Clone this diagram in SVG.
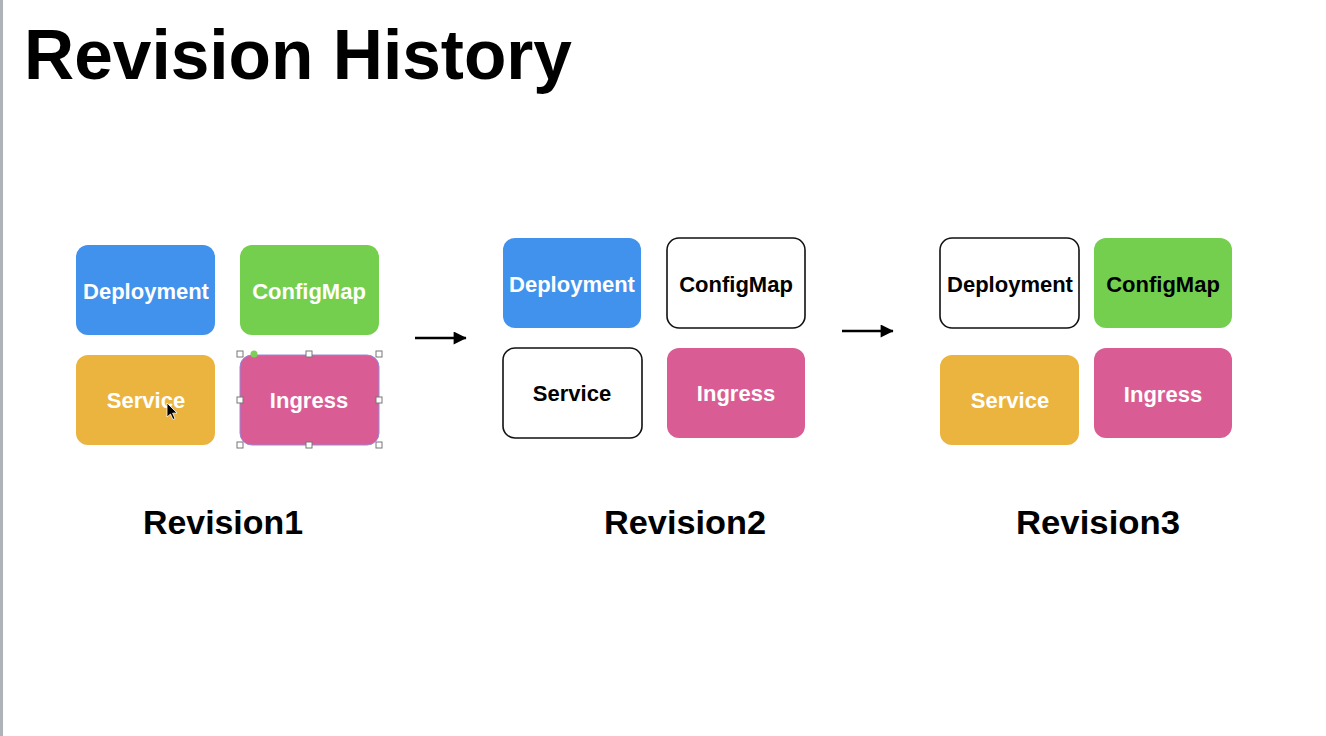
<svg xmlns="http://www.w3.org/2000/svg" width="1326" height="736" viewBox="0 0 1326 736">
  <style>
    .empty { fill: #ffffff; stroke: #111111; stroke-width: 1.6; }
    .lbl { font-family: "Liberation Sans", Arial, sans-serif; font-weight: bold; font-size: 22px; text-anchor: middle; }
    .w { fill: #ffffff; }
    .k { fill: #000000; }
    .rev { font-family: "Liberation Sans", Arial, sans-serif; font-weight: bold; font-size: 33px; text-anchor: middle; fill: #000; }
    .handle { fill: #ffffff; stroke: #777777; stroke-width: 1; }
    .conn { stroke: #000; stroke-width: 2.6; fill: none; marker-end: url(#ah); }
  </style>
  <defs>
    <marker id="ah" viewBox="0 0 10 10" refX="9.5" refY="5" markerWidth="5.6" markerHeight="5" orient="auto" markerUnits="strokeWidth">
      <path d="M0,0 L10,5 L0,10 Z" fill="#000"/>
    </marker>
  </defs>
  <rect x="0" y="0" width="1326" height="736" fill="#ffffff"/>
  <rect x="0" y="0" width="3" height="736" fill="#aeb3ba"/>
  <text x="24" y="79" font-family="Liberation Sans, Arial, sans-serif" font-weight="bold" font-size="70" textLength="548" lengthAdjust="spacingAndGlyphs" fill="#000">Revision History</text>

  <!-- Revision 1 -->
  <g id="r1-deployment">
    <rect x="76" y="245" width="139" height="90" rx="12" fill="#4192ec"/>
    <text class="lbl w" x="146" y="299">Deployment</text>
  </g>
  <g id="r1-configmap">
    <rect x="240" y="245" width="139" height="90" rx="12" fill="#75cf4e"/>
    <text class="lbl w" x="309" y="299">ConfigMap</text>
  </g>
  <g id="r1-service">
    <rect x="76" y="355" width="139" height="90" rx="12" fill="#ebb43e"/>
    <text class="lbl w" x="146" y="408">Service</text>
  </g>
  <g id="r1-ingress">
    <rect x="240" y="355" width="139" height="90" rx="12" fill="#d95d94" stroke="#9a86d6" stroke-width="1"/>
    <text class="lbl w" x="309" y="408">Ingress</text>
    <rect class="handle" x="237" y="351" width="6" height="6"/>
    <rect class="handle" x="306" y="351" width="6" height="6"/>
    <rect class="handle" x="376" y="351" width="6" height="6"/>
    <rect class="handle" x="237" y="397" width="6" height="6"/>
    <rect class="handle" x="376" y="397" width="6" height="6"/>
    <rect class="handle" x="237" y="442" width="6" height="6"/>
    <rect class="handle" x="306" y="442" width="6" height="6"/>
    <rect class="handle" x="376" y="442" width="6" height="6"/>
    <circle cx="254" cy="354" r="3.5" fill="#7ccf5a"/>
  </g>
  <path d="M167,403 L167,417 L170.5,414 L173,419.5 L175,418.5 L172.6,413.2 L177,413 Z" fill="#000" stroke="#fff" stroke-width="0.8"/>

  <!-- Revision 2 -->
  <g id="r2-deployment">
    <rect x="503" y="238" width="138" height="90" rx="12" fill="#4192ec"/>
    <text class="lbl w" x="572" y="292">Deployment</text>
  </g>
  <g id="r2-configmap">
    <rect class="empty" x="667" y="238" width="138" height="90" rx="12"/>
    <text class="lbl k" x="736" y="292">ConfigMap</text>
  </g>
  <g id="r2-service">
    <rect class="empty" x="503" y="348" width="139" height="90" rx="12"/>
    <text class="lbl k" x="572" y="401">Service</text>
  </g>
  <g id="r2-ingress">
    <rect x="667" y="348" width="138" height="90" rx="12" fill="#d95d94"/>
    <text class="lbl w" x="736" y="401">Ingress</text>
  </g>

  <!-- Revision 3 -->
  <g id="r3-deployment">
    <rect class="empty" x="940" y="238" width="139" height="90" rx="12"/>
    <text class="lbl k" x="1010" y="292">Deployment</text>
  </g>
  <g id="r3-configmap">
    <rect x="1094" y="238" width="138" height="90" rx="12" fill="#75cf4e"/>
    <text class="lbl k" x="1163" y="292">ConfigMap</text>
  </g>
  <g id="r3-service">
    <rect x="940" y="355" width="139" height="90" rx="12" fill="#ebb43e"/>
    <text class="lbl w" x="1010" y="408">Service</text>
  </g>
  <g id="r3-ingress">
    <rect x="1094" y="348" width="138" height="90" rx="12" fill="#d95d94"/>
    <text class="lbl w" x="1163" y="402">Ingress</text>
  </g>

  <g id="connectors">
    <line class="conn" x1="415" y1="338" x2="466" y2="338"/>
    <line class="conn" x1="842" y1="331" x2="893" y2="331"/>
  </g>

  <text class="rev" x="223" y="534" textLength="160" lengthAdjust="spacingAndGlyphs">Revision1</text>
  <text class="rev" x="685" y="534" textLength="162" lengthAdjust="spacingAndGlyphs">Revision2</text>
  <text class="rev" x="1098" y="534" textLength="164" lengthAdjust="spacingAndGlyphs">Revision3</text>
</svg>
